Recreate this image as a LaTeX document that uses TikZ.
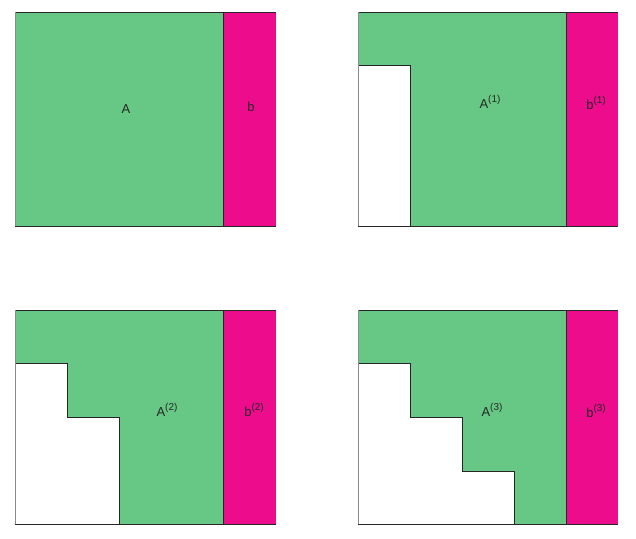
\documentclass[tikz,border=0pt]{standalone}
\usepackage{fontspec}
\setmainfont{Liberation Sans}
\definecolor{mgreen}{RGB}{102,200,132}
\definecolor{mmag}{RGB}{236,12,140}
\newcommand{\mysup}[1]{\raisebox{0.42em}{\fontsize{10}{12}\selectfont(#1)}}
\begin{document}
\begin{tikzpicture}[x=1pt,y=-1pt,
  edge/.style={draw=black!85,line width=1pt},
  leftedge/.style={draw=black!45,line width=0.8pt},
  lbl/.style={font=\fontsize{13}{15}\selectfont,inner sep=0pt,text=black!85}]
\useasboundingbox (0,0) rectangle (636,538);
% Panel 1
\fill[mgreen] (15,12) rectangle (223,226);
\fill[mmag] (223,12) rectangle (276,226);
\draw[edge] (15,12) -- (276,12);
\draw[edge] (15,226) -- (276,226);
\draw[edge] (223,12) -- (223,226);
\draw[leftedge] (15,12) -- (15,226);
\node[lbl] (A0) at (126,109) {A};
\node[lbl] (b0) at (251,107) {b};
% Panel 2
\fill[mgreen] (358,12) -- (566,12) -- (566,226) -- (410,226) -- (410,65) -- (358,65) -- cycle;
\fill[mmag] (566,12) rectangle (618,226);
\draw[edge] (358,12) -- (618,12);
\draw[edge] (358,226) -- (618,226);
\draw[edge] (566,12) -- (566,226);
\draw[edge] (358,65) -- (410,65) -- (410,226);
\draw[leftedge] (358,12) -- (358,226);
\node[lbl] (A1) at (490,102) {A\mysup{1}};
\node[lbl] (b1) at (596,103) {b\mysup{1}};
% Panel 3
\fill[mgreen] (15,310) -- (223,310) -- (223,524) -- (119,524) -- (119,417) -- (67,417) -- (67,363) -- (15,363) -- cycle;
\fill[mmag] (223,310) rectangle (276,524);
\draw[edge] (15,310) -- (276,310);
\draw[edge] (15,524) -- (276,524);
\draw[edge] (223,310) -- (223,524);
\draw[edge] (15,363) -- (67,363) -- (67,417) -- (119,417) -- (119,524);
\draw[leftedge] (15,310) -- (15,524);
\node[lbl] (A2) at (167,410) {A\mysup{2}};
\node[lbl] (b2) at (254,410) {b\mysup{2}};
% Panel 4
\fill[mgreen] (358,310) -- (566,310) -- (566,524) -- (514,524) -- (514,471) -- (462,471) -- (462,417) -- (410,417) -- (410,363) -- (358,363) -- cycle;
\fill[mmag] (566,310) rectangle (618,524);
\draw[edge] (358,310) -- (618,310);
\draw[edge] (358,524) -- (618,524);
\draw[edge] (566,310) -- (566,524);
\draw[edge] (358,363) -- (410,363) -- (410,417) -- (462,417) -- (462,471) -- (514,471) -- (514,524);
\draw[leftedge] (358,310) -- (358,524);
\node[lbl] (A3) at (492,410) {A\mysup{3}};
\node[lbl] (b3) at (596,411) {b\mysup{3}};
\end{tikzpicture}
\end{document}
